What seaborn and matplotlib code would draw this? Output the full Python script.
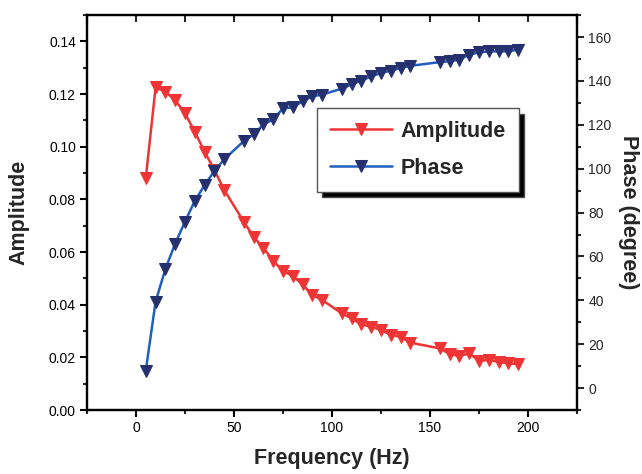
import matplotlib
matplotlib.use("Agg")
import matplotlib.pyplot as plt
from matplotlib.ticker import MultipleLocator, FormatStrFormatter
import seaborn as sns
import pandas as pd

# Frequency sweep (Hz)
frequency = [5, 10, 15, 20, 25, 30, 35, 40, 45, 55, 60, 65, 70, 75, 80, 85, 90, 95,
             105, 110, 115, 120, 125, 130, 135, 140, 155, 160, 165, 170, 175, 180,
             185, 190, 195]

# Response amplitude
amplitude = [0.0881, 0.1226, 0.1209, 0.1177, 0.1127, 0.1057, 0.0981, 0.0912, 0.0836,
             0.0715, 0.0658, 0.0616, 0.0567, 0.0528, 0.0509, 0.0477, 0.0437, 0.0418,
             0.0367, 0.0348, 0.0325, 0.0316, 0.0304, 0.0285, 0.0278, 0.0256, 0.0234,
             0.0213, 0.0205, 0.0215, 0.0187, 0.0190, 0.0183, 0.0177, 0.0175]

# Phase lag (degree)
phase = [8.0, 39.4, 54.3, 65.9, 75.9, 85.3, 92.5, 99.0, 104.3, 112.6, 115.6, 120.2,
         122.5, 127.5, 128.0, 130.8, 133.0, 133.8, 136.5, 138.4, 140.2, 142.1, 143.6,
         144.7, 145.9, 146.9, 148.6, 149.0, 149.7, 152.0, 153.0, 153.5, 153.5, 153.5,
         154.3]

df = pd.DataFrame({"Frequency": frequency, "Amplitude": amplitude, "Phase": phase})

sns.set_theme(style="ticks")
plt.rcParams["font.family"] = ["Liberation Sans", "DejaVu Sans"]

RED = "#ee3434"
BLUE_LINE = "#1f5fbf"
BLUE_MARK = "#25306e"

fig = plt.figure(figsize=(6.42, 4.74), dpi=100)
ax = fig.add_axes([0.1355, 0.135, 0.7633, 0.833])
ax2 = ax.twinx()

sns.lineplot(data=df, x="Frequency", y="Amplitude", ax=ax, color=RED, lw=1.8,
             marker="v", markersize=9, markerfacecolor=RED, markeredgecolor=RED,
             label="Amplitude", legend=False)
sns.lineplot(data=df, x="Frequency", y="Phase", ax=ax2, color=BLUE_LINE, lw=1.8,
             marker="v", markersize=9, markerfacecolor=BLUE_MARK,
             markeredgecolor=BLUE_MARK, label="Phase", legend=False)

ax.set_xlim(-25, 225)
ax.set_ylim(0, 0.15)
ax2.set_ylim(-10, 170)

ax.xaxis.set_major_locator(MultipleLocator(50))
ax.xaxis.set_minor_locator(MultipleLocator(25))
ax.set_yticks([0.0, 0.02, 0.04, 0.06, 0.08, 0.10, 0.12, 0.14])
ax.yaxis.set_minor_locator(MultipleLocator(0.01))
ax.yaxis.set_major_formatter(FormatStrFormatter("%.2f"))
ax2.set_yticks([0, 20, 40, 60, 80, 100, 120, 140, 160])
ax2.yaxis.set_minor_locator(MultipleLocator(10))

for a in (ax, ax2):
    for s in a.spines.values():
        s.set_linewidth(1.6)
        s.set_color("black")
        s.set_visible(True)

ax.tick_params(axis="both", which="major", direction="out", length=5, width=1.5,
               labelsize=10, colors="black", pad=3)
ax.tick_params(axis="both", which="minor", direction="out", length=3, width=1.5)
ax.tick_params(axis="x", which="both", top=False)
ax2.tick_params(axis="y", which="major", direction="out", length=5, width=1.5,
                labelsize=10, pad=3)
ax2.tick_params(axis="y", which="minor", direction="out", length=3, width=1.5)

# inward ticks along the top edge
axt = ax.secondary_xaxis("top")
axt.xaxis.set_major_locator(MultipleLocator(25))
axt.tick_params(direction="in", length=5, width=1.5, labeltop=False)

ax.set_xlabel("Frequency (Hz)", fontsize=15.5, fontweight="bold", labelpad=9)
ax.set_ylabel("Amplitude", fontsize=15.5, fontweight="bold", labelpad=14)
ax2.set_ylabel("Phase (degree)", fontsize=15.5, fontweight="bold", rotation=270,
               labelpad=20)

handles = [ax.lines[0], ax2.lines[0]]
leg = ax2.legend(handles, ["Amplitude", "Phase"], loc="upper left",
                 bbox_to_anchor=(0.469, 0.765),
                 prop={"weight": "bold", "size": 15.5},
                 frameon=True, fancybox=False, framealpha=1, edgecolor="#555555",
                 handlelength=2.9, handletextpad=0.4, labelspacing=0.75,
                 borderpad=0.6, borderaxespad=0,
                 shadow={"ox": 4, "oy": -4, "facecolor": "black", "alpha": 1})
leg.get_frame().set_linewidth(1.0)

fig.savefig("out.png", dpi=100)
